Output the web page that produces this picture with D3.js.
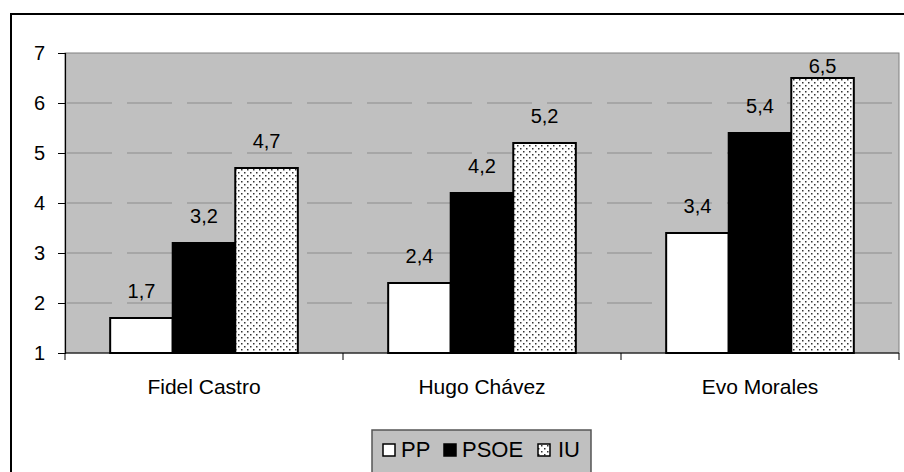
<!DOCTYPE html>
<html><head><meta charset="utf-8">
<script src="https://cdn.jsdelivr.net/npm/d3@7"></script>
<style>body{margin:0;background:#fff;} svg{display:block;} text{font-family:"Liberation Sans",Arial,sans-serif;}</style>
</head><body><svg id="c" width="904" height="472"></svg>
<script>
const categories = ["Fidel Castro", "Hugo Chávez", "Evo Morales"];
const seriesNames = ["PP", "PSOE", "IU"];
const PP = [1.7, 2.4, 3.4];
const PSOE = [3.2, 4.2, 5.4];
const IU = [4.7, 5.2, 6.5];
const yTicks = [1, 2, 3, 4, 5, 6, 7];
const seriesValues = [PP, PSOE, IU];

const FS = 20;
const svg = d3.select("#c");
const defs = svg.append("defs");
const pat = defs.append("pattern").attr("id", "dots").attr("patternUnits", "userSpaceOnUse")
  .attr("width", 6).attr("height", 6);
pat.append("rect").attr("width", 6).attr("height", 6).attr("fill", "#fff");
pat.append("rect").attr("x", 1).attr("y", 1).attr("width", 1.5).attr("height", 1.5).attr("fill", "#333");
pat.append("rect").attr("x", 4).attr("y", 4).attr("width", 1.5).attr("height", 1.5).attr("fill", "#333");
const fills = ["#ffffff", "#000000", "url(#dots)"];

// outer frame (extends off canvas on right/bottom)
svg.append("rect").attr("x", 11).attr("y", 14).attr("width", 920).attr("height", 500)
  .attr("fill", "#fff").attr("stroke", "#000").attr("stroke-width", 2);

const L = 65, R = 899, T = 53, B = 353;
const y = d3.scaleLinear().domain([1, 7]).range([B, T]);
const x0 = d3.scaleBand().domain(categories).range([L, R]).paddingInner(0).paddingOuter(0);
const inner = 0.675;
const x1 = d3.scaleBand().domain(seriesNames).range([0, x0.bandwidth() * inner]);
const off = x0.bandwidth() * (1 - inner) / 2;

svg.append("rect").attr("x", L).attr("y", T).attr("width", R - L).attr("height", B - T)
  .attr("fill", "#c0c0c0").attr("stroke", "#808080").attr("stroke-width", 1);

// gridlines
svg.append("g").selectAll("line").data(yTicks.filter(t => t > 1 && t < 7)).join("line")
  .attr("x1", L).attr("x2", R).attr("y1", d => y(d)).attr("y2", d => y(d))
  .attr("stroke", "#8c8c8c").attr("stroke-width", 1).attr("stroke-dasharray", "45,15")
  .attr("stroke-dashoffset", -2);

// bars
const g = svg.append("g");
categories.forEach((c, i) => {
  seriesNames.forEach((s, j) => {
    const v = seriesValues[j][i];
    const bx = x0(c) + off + x1(s);
    g.append("rect").attr("x", bx).attr("y", y(v)).attr("width", x1.bandwidth()).attr("height", y(1) - y(v))
      .attr("fill", fills[j]).attr("stroke", "#000").attr("stroke-width", 2);
    g.append("text").attr("x", bx + x1.bandwidth() / 2).attr("y", Math.max(y(v) - 20, T + 20))
      .attr("text-anchor", "middle").attr("font-size", FS).attr("fill", "#000")
      .text(String(v).replace(".", ","));
  });
});

// y axis
const yAxis = d3.axisLeft(y).tickValues(yTicks).tickSize(7).tickPadding(13).tickFormat(d3.format("d"));
const ya = svg.append("g").attr("transform", `translate(${L},0)`).call(yAxis);
ya.attr("font-size", FS).attr("font-family", null);
ya.select(".domain").attr("stroke", "#000").attr("stroke-width", 1.2);
ya.selectAll(".tick line").attr("stroke", "#000");
ya.selectAll("text").attr("font-size", FS).attr("fill", "#000");

// x axis
svg.append("line").attr("x1", L).attr("x2", R).attr("y1", B).attr("y2", B).attr("stroke", "#000").attr("stroke-width", 1.2);
const bounds = categories.map(c => x0(c)).concat([R]);
svg.append("g").selectAll("line").data(bounds).join("line")
  .attr("x1", d => d).attr("x2", d => d).attr("y1", B).attr("y2", B + 7).attr("stroke", "#000");
svg.append("g").selectAll("text").data(categories).join("text")
  .attr("x", d => x0(d) + x0.bandwidth() / 2).attr("y", 394).attr("text-anchor", "middle")
  .attr("font-size", 21).attr("fill", "#000").text(d => d);

// legend
const lg = svg.append("g");
lg.append("rect").attr("x", 372).attr("y", 430).attr("width", 219).attr("height", 60)
  .attr("fill", "#c0c0c0").attr("stroke", "#555").attr("stroke-width", 1.5);
const items = [{x: 383, tx: 401}, {x: 444, tx: 462}, {x: 538, tx: 558}];
seriesNames.forEach((s, j) => {
  lg.append("rect").attr("x", items[j].x).attr("y", 444).attr("width", 12).attr("height", 12)
    .attr("fill", fills[j]).attr("stroke", "#000").attr("stroke-width", 1.5);
  lg.append("text").attr("x", items[j].tx).attr("y", 457).attr("font-size", 22).attr("fill", "#000").text(s);
});
</script></body></html>
